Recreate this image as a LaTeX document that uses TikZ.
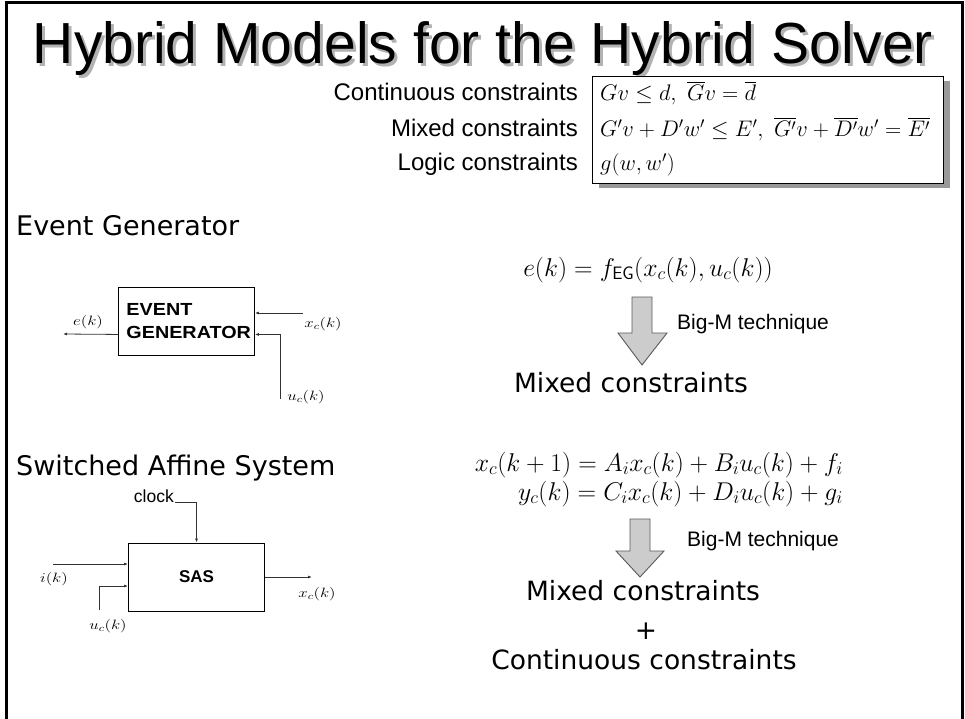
\RequirePackage{fix-cm}
\documentclass[tikz,border=0pt]{standalone}
\usepackage[no-math]{fontspec}
\usepackage{amsmath}
\usepackage{graphicx}
\usetikzlibrary{arrows.meta,shadows}
\newfontfamily\dvs{DejaVu Sans}
\newfontfamily\lbs{Liberation Sans}
\newcommand{\wlab}[1]{\scalebox{1.25}[1]{$#1$}}
\newcommand{\wbold}[1]{\scalebox{1.13}[1]{#1}}
\newcommand{\titletext}{\resizebox{900pt}{42pt}{\lbs Hybrid Models for the Hybrid Solver}}
\tikzset{
  heading/.style={anchor=base west, inner sep=0pt, font=\dvs\fontsize{27}{31}\selectfont},
  bigtext/.style={anchor=base, inner sep=0pt, font=\dvs\fontsize{26.5}{31}\selectfont},
  rowlab/.style={anchor=base east, inner sep=0pt, font=\lbs\fontsize{24}{28}\selectfont},
  rowmath/.style={anchor=base west, inner sep=0pt, font=\fontsize{22.5}{26}\selectfont},
  eqn/.style={inner sep=0pt, font=\fontsize{25.7}{30}\selectfont},
  smalllab/.style={inner sep=0pt, font=\fontsize{13.5}{15}\selectfont},
  blockbox/.style={draw, line width=0.9pt, inner sep=0pt},
  wire/.style={line width=0.8pt, draw=black!80},
  tipped/.style={-{Latex[length=4pt,width=3pt]}},
  fatarrow/.style={draw=black!65, fill=black!20, line width=0.9pt},
  bigm/.style={anchor=base west, inner sep=0pt, font=\lbs\fontsize{21}{25}\selectfont},
}
\begin{document}
\begin{tikzpicture}[x=1pt,y=-1pt]
\useasboundingbox (0,0) rectangle (965,719);
% frame
\draw[line width=3pt] (6,719) -- (6,3) -- (962,3) -- (962,719);
% title with its shadow in one node
\node[anchor=base, inner sep=0pt] (title) at (483,64)
  {\makebox[0pt][l]{\hspace{3pt}\raisebox{-3pt}{\textcolor{black!30}{\titletext}}}\titletext};
% constraint box
\node[draw, line width=1pt, fill=white, minimum width=351pt, minimum height=107pt, anchor=north west, inner sep=0pt,
      drop shadow={shadow xshift=6pt, shadow yshift=-5pt, fill=black!40, opacity=1}] (cbox) at (592,76) {};
\node[rowlab] (l1) at (578,101) {Continuous constraints};
\node[rowlab] (l2) at (578,137) {Mixed constraints};
\node[rowlab] (l3) at (578,171) {Logic constraints};
\node[rowmath] (m1) at (600,101) {$Gv\le d,\ \overline{G}v=\overline{d}$};
\node[rowmath] (m2) at (600,137) {$G'v+D'w'\le E',\ \overline{G'}v+\overline{D'}w'=\overline{E'}$};
\node[rowmath] (m3) at (600,171) {$g(w,w')$};
% Event generator
\node[heading] (h1) at (16,236) {Event Generator};
\node[blockbox, minimum width=136pt, minimum height=68pt, anchor=north west, align=left,
      text width=120pt, inner xsep=8pt, font=\lbs\bfseries\fontsize{17.5}{23}\selectfont] (eg) at (118,287)
      {\wbold{EVENT}\\\wbold{GENERATOR}};
\coordinate (eout) at (63,334);
\coordinate (xin) at (303,313);
\coordinate (uin) at (280,399);
\draw[wire,tipped] ([yshift=-13pt]eg.west) -- (eout);
\draw[wire,tipped] (xin) -- (eg.east |- xin);
\draw[wire,tipped] (uin) |- ([yshift=-13pt]eg.east);
\node[smalllab] (elab) at (88,322) {\wlab{e(k)}};
\node[smalllab] (xlab) at (323,324) {\wlab{x_c(k)}};
\node[smalllab] (ulab) at (306,397) {\wlab{u_c(k)}};
% EG equation and arrow
\node[eqn, anchor=base] (eqeg) at (648,276) {$e(k)=f_{\mathsf{EG}}(x_c(k),u_c(k))$};
\draw[fatarrow] (632,297) -- (652,297) -- (652,333) -- (667,333) -- (642,365) -- (618,333) -- (632,333) -- cycle;
\node[bigm] (bm1) at (677,329) {Big-M technique};
\node[bigtext] (mc1) at (631,392) {Mixed constraints};
% Switched affine system
\node[heading] (h2) at (16,475) {Switched Affine System};
\node[blockbox, minimum width=136pt, minimum height=68pt, font=\lbs\bfseries\fontsize{17}{20}\selectfont] (sas) at (196.5,577) {SAS};
\node[anchor=base east, inner sep=0pt, font=\lbs\fontsize{17.5}{20}\selectfont] (clock) at (174,502) {clock};
\draw[wire,tipped] ([xshift=1pt]clock.base east) -| (sas.north);
\coordinate (iin) at (53,564);
\coordinate (uin2) at (99,610);
\coordinate (xout) at (312,577);
\draw[wire,tipped] (iin) -- (sas.west |- iin);
\draw[wire,tipped] (uin2) |- ([yshift=-9pt]sas.west);
\draw[wire,tipped] (sas.east) -- (xout);
\node[smalllab] (ilab) at (54,579) {\wlab{i(k)}};
\node[smalllab] (ulab2) at (108,626) {\wlab{u_c(k)}};
\node[smalllab] (xlab2) at (317,594) {\wlab{x_c(k)}};
% SAS equations
\node[eqn, anchor=base east] (eq1) at (843,471) {$x_c(k+1)=A_ix_c(k)+B_iu_c(k)+f_i$};
\node[eqn, anchor=base east] (eq2) at (843,500) {$y_c(k)=C_ix_c(k)+D_iu_c(k)+g_i$};
\draw[fatarrow] (630,519) -- (650,519) -- (650,551) -- (664,551) -- (640,577) -- (616,551) -- (630,551) -- cycle;
\node[bigm] (bm2) at (687,546) {Big-M technique};
\node[bigtext] (mc2) at (643,600) {Mixed constraints};
\node[bigtext] (plus) at (646,639) {+};
\node[bigtext] (cc) at (644,669) {Continuous constraints};
\end{tikzpicture}
\end{document}
